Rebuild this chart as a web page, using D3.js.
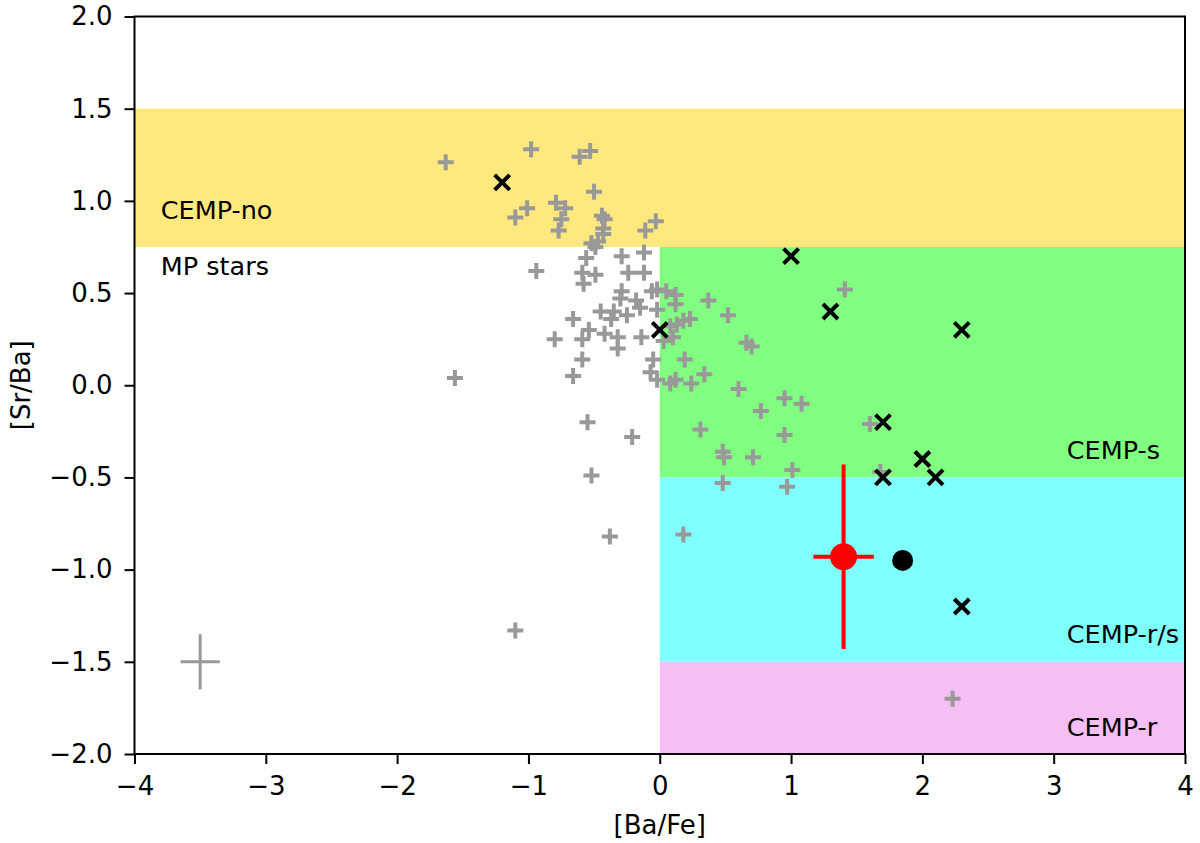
<!DOCTYPE html>
<html>
<head>
<meta charset="utf-8">
<script src="https://cdn.jsdelivr.net/npm/d3@7"></script>
<style>
  body { margin: 0; background: #fff; }
  text { font-family: "DejaVu Sans", sans-serif; }
</style>
</head>
<body>
<svg></svg>
<script>
// literature stars (grey +)
const litBaFe = [-1.63, -0.98, -0.61, -0.53, -0.50, -1.01, -1.10, -0.79, -0.72, -0.75,
    -0.77, -0.44, -0.42, -0.43, -0.43, -0.03, -0.11, -0.52, -0.49, -0.47,
    -0.56, -0.29, -0.12, -0.94, -0.59, -0.49, -0.58, -0.24, -0.12, -0.29,
    -0.30, -0.18, -0.06, -0.02, 0.05, 0.12, 0.12, 0.37, -0.45, -0.35,
    -0.25, -0.15, -0.02, -0.66, -0.37, 0.18, 0.23, 0.13, -0.54, -0.59,
    -0.42, -0.32, -0.14, 0.08, 0.10, 0.03, -0.32, -0.59, -0.05, 0.19,
    -0.07, -0.66, -0.02, 0.08, 0.12, 0.24, 0.34, -1.56, -0.80, 0.52,
    0.66, 0.70, 1.41, 0.60, 0.95, 1.08, 0.77, 1.60, 0.31, 0.95,
    0.48, 0.49, 0.71, 1.01, 0.48, 0.97, 0.18, 1.68, -0.55, -0.52,
    -0.38, -0.21, -1.10, 2.23];
const litSrBa = [1.21, 1.28, 1.24, 1.27, 1.05, 0.96, 0.91, 0.99, 0.96, 0.90,
    0.84, 0.92, 0.90, 0.85, 0.82, 0.89, 0.84, 0.77, 0.75, 0.78,
    0.69, 0.70, 0.72, 0.62, 0.61, 0.60, 0.55, 0.61, 0.61, 0.51,
    0.47, 0.46, 0.51, 0.52, 0.51, 0.49, 0.44, 0.46, 0.40, 0.40,
    0.38, 0.42, 0.41, 0.36, 0.36, 0.35, 0.36, 0.33, 0.30, 0.25,
    0.28, 0.26, 0.26, 0.32, 0.26, 0.24, 0.20, 0.14, 0.14, 0.14,
    0.07, 0.05, 0.03, 0.01, 0.03, 0.01, 0.06, 0.04, 0.25, 0.38,
    0.23, 0.21, 0.52, -0.02, -0.07, -0.10, -0.14, -0.21, -0.24, -0.27,
    -0.36, -0.39, -0.39, -0.46, -0.53, -0.55, -0.81, -0.47, -0.20, -0.49,
    -0.82, -0.28, -1.33, -1.70];

// CEMP stars (black x)
const cempBaFe = [-1.2, 1.0, 1.3, 0.0, 2.3, 1.7, 2.0, 1.7, 2.1, 2.3];
const cempSrBa = [1.1, 0.7, 0.4, 0.3, 0.3, -0.2, -0.4, -0.5, -0.5, -1.2];

// this star (red) with errors, comparison star (black dot)
const starBaFe = 1.40, starSrBa = -0.93, starErrX = 0.23, starErrY = 0.50;
const compBaFe = 1.85, compSrBa = -0.95;

// typical error of the literature sample
const typBaFe = -3.5, typSrBa = -1.5, typErrX = 0.15, typErrY = 0.15;

// classification regions
const regionNames = ['CEMP-no', 'CEMP-s', 'CEMP-r/s', 'CEMP-r'];
const regionX0 = [-4, 0, 0, 0];
const regionX1 = [4, 4, 4, 4];
const regionY0 = [0.75, -0.5, -1.5, -2];
const regionY1 = [1.5, 0.75, -0.5, -1.5];
const regionColors = {'CEMP-no': '#ffe97f', 'CEMP-s': '#80ff80', 'CEMP-r/s': '#80ffff', 'CEMP-r': '#f5bff5'};

const labelText = ['CEMP-no', 'MP stars', 'CEMP-s', 'CEMP-r/s', 'CEMP-r'];
const labelX = [-3.8, -3.8, 3.1, 3.1, 3.1];
const labelY = [0.9, 0.6, -0.4, -1.4, -1.9];

const xTicks = [-4, -3, -2, -1, 0, 1, 2, 3, 4];
const yTicks = [-2.0, -1.5, -1.0, -0.5, 0.0, 0.5, 1.0, 1.5, 2.0];

const margins = {t: 16.5, r: 15, b: 89, l: 134.5};
const size = {w: 1200, h: 843};
const fontSize = 25.5;
const tickFont = 26;

const svg = d3.select('svg')
    .attr('width', size.w)
    .attr('height', size.h);

const x = d3.scaleLinear().domain([-4, 4]).range([margins.l, size.w - margins.r]);
const y = d3.scaleLinear().domain([-2, 2]).range([size.h - margins.b, margins.t]);

// regions
svg.append('g').selectAll('rect')
    .data(regionNames)
    .join('rect')
    .attr('x', (d, i) => x(regionX0[i]))
    .attr('y', (d, i) => y(regionY1[i]))
    .attr('width', (d, i) => x(regionX1[i]) - x(regionX0[i]))
    .attr('height', (d, i) => y(regionY0[i]) - y(regionY1[i]))
    .attr('fill', d => regionColors[d]);

// region labels
svg.append('g').selectAll('text')
    .data(labelText)
    .join('text')
    .attr('x', (d, i) => x(labelX[i]))
    .attr('y', (d, i) => y(labelY[i]))
    .attr('font-size', fontSize)
    .attr('fill', '#000')
    .text(d => d);

// typical error bar
const typG = svg.append('g').attr('stroke', '#999').attr('stroke-width', 3);
typG.append('line')
    .attr('x1', x(typBaFe - typErrX)).attr('x2', x(typBaFe + typErrX))
    .attr('y1', y(typSrBa)).attr('y2', y(typSrBa));
typG.append('line')
    .attr('x1', x(typBaFe)).attr('x2', x(typBaFe))
    .attr('y1', y(typSrBa - typErrY)).attr('y2', y(typSrBa + typErrY));

// literature stars
const plus = 8;
svg.append('g')
    .attr('stroke', '#999')
    .attr('stroke-width', 4)
    .selectAll('path')
    .data(litBaFe)
    .join('path')
    .attr('d', (d, i) => {
        const cx = x(d), cy = y(litSrBa[i]);
        return `M${cx - plus},${cy}H${cx + plus}M${cx},${cy - plus}V${cy + plus}`;
    });

// CEMP stars
const cross = 7.5;
svg.append('g')
    .attr('stroke', '#000')
    .attr('stroke-width', 4)
    .selectAll('path')
    .data(cempBaFe)
    .join('path')
    .attr('d', (d, i) => {
        const cx = x(d), cy = y(cempSrBa[i]);
        return `M${cx - cross},${cy - cross}L${cx + cross},${cy + cross}M${cx - cross},${cy + cross}L${cx + cross},${cy - cross}`;
    });

// program star
const starG = svg.append('g').attr('stroke', '#ff0000').attr('stroke-width', 4);
starG.append('line')
    .attr('x1', x(starBaFe - starErrX)).attr('x2', x(starBaFe + starErrX))
    .attr('y1', y(starSrBa)).attr('y2', y(starSrBa));
starG.append('line')
    .attr('x1', x(starBaFe)).attr('x2', x(starBaFe))
    .attr('y1', y(starSrBa - starErrY)).attr('y2', y(starSrBa + starErrY));
svg.append('circle')
    .attr('cx', x(starBaFe)).attr('cy', y(starSrBa))
    .attr('r', 13.5)
    .attr('fill', '#ff0000');

svg.append('circle')
    .attr('cx', x(compBaFe)).attr('cy', y(compSrBa))
    .attr('r', 10.5)
    .attr('fill', '#000');

// axes
const xAxis = svg.append('g')
    .attr('transform', `translate(0, ${size.h - margins.b})`)
    .call(d3.axisBottom(x).tickValues(xTicks).tickSizeOuter(0).tickSize(10).tickPadding(13)
        .tickFormat(d => d < 0 ? '\u2212' + Math.abs(d) : d));
const yAxis = svg.append('g')
    .attr('transform', `translate(${margins.l}, 0)`)
    .call(d3.axisLeft(y).tickValues(yTicks).tickSizeOuter(0).tickSize(10).tickPadding(12)
        .tickFormat(d => (d < 0 ? '\u2212' : '') + d3.format('.1f')(Math.abs(d))));

[xAxis, yAxis].forEach(a => {
    a.selectAll('.domain').remove();
    a.selectAll('line').attr('stroke', '#000').attr('stroke-width', 2);
    a.selectAll('text')
        .attr('font-size', tickFont)
        .attr('font-family', '"DejaVu Sans", sans-serif')
        .attr('fill', '#000');
});

// frame
svg.append('rect')
    .attr('x', margins.l).attr('y', margins.t)
    .attr('width', size.w - margins.r - margins.l)
    .attr('height', size.h - margins.b - margins.t)
    .attr('fill', 'none')
    .attr('stroke', '#000')
    .attr('stroke-width', 2);

svg.append('text')
    .attr('x', (margins.l + size.w - margins.r) / 2)
    .attr('y', 834)
    .attr('text-anchor', 'middle')
    .attr('font-size', tickFont)
    .text('[Ba/Fe]');

svg.append('text')
    .attr('transform', `translate(30, ${(margins.t + size.h - margins.b) / 2}) rotate(-90)`)
    .attr('text-anchor', 'middle')
    .attr('font-size', tickFont)
    .text('[Sr/Ba]');
</script>
</body>
</html>
